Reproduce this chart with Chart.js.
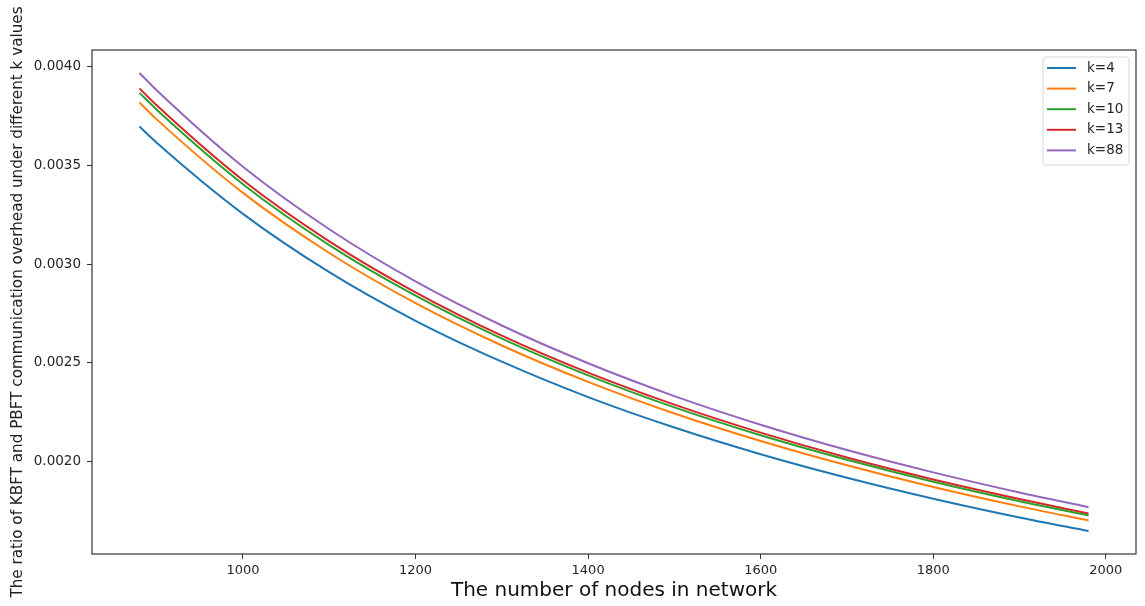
<!DOCTYPE html>
<html>
<head>
<meta charset="utf-8">
<script src="https://cdn.jsdelivr.net/npm/chart.js@4.4.1/dist/chart.umd.min.js"></script>
<style>
  html, body { margin: 0; padding: 0; background: #fff; }
  #wrap { width: 1145px; height: 606px; }
</style>
</head>
<body>
<div id="wrap"><canvas id="c" width="1145" height="606"></canvas></div>
<script>
// ---- data ----
const nodes = [880, 900, 1000, 1100, 1200, 1300, 1400, 1500, 1600, 1700, 1800, 1900, 1980];
const k4  = [0.003696, 0.003614, 0.003254, 0.002959, 0.002713, 0.002506, 0.002327, 0.002173, 0.002038, 0.001919, 0.001813, 0.001718, 0.001649];
const k7  = [0.003817, 0.003732, 0.003360, 0.003056, 0.002802, 0.002588, 0.002404, 0.002244, 0.002105, 0.001982, 0.001872, 0.001774, 0.001703];
const k10 = [0.003866, 0.003781, 0.003404, 0.003096, 0.002840, 0.002623, 0.002437, 0.002275, 0.002134, 0.002010, 0.001899, 0.001800, 0.001728];
const k13 = [0.003889, 0.003803, 0.003424, 0.003115, 0.002857, 0.002638, 0.002451, 0.002289, 0.002147, 0.002021, 0.001910, 0.001811, 0.001738];
const k88 = [0.003967, 0.003879, 0.003492, 0.003176, 0.002912, 0.002689, 0.002498, 0.002332, 0.002187, 0.002059, 0.001946, 0.001844, 0.001770];
const seriesLabels = ['k=4', 'k=7', 'k=10', 'k=13', 'k=88'];
const seriesColors = ['#1f77b4', '#ff7f0e', '#2ca02c', '#d62728', '#9467bd'];
const xTicks = [1000, 1200, 1400, 1600, 1800, 2000];
const yTicks = [0.0020, 0.0025, 0.0030, 0.0035, 0.0040];
const xTitle = 'The number of nodes in network';
const yTitle = 'The ratio of KBFT and PBFT communication overhead under different k values';

const allSeries = [k4, k7, k10, k13, k88];
const FONT = "'DejaVu Sans', sans-serif";
const TEXT = '#262626';

const datasets = allSeries.map((s, i) => ({
  label: seriesLabels[i],
  data: nodes.map((n, j) => ({ x: n, y: s[j] })),
  borderColor: seriesColors[i],
  backgroundColor: seriesColors[i],
  borderWidth: 2,
  pointRadius: 0,
  fill: false,
  cubicInterpolationMode: 'monotone'
}));

const framePlugin = {
  id: 'frame',
  afterDraw(chart) {
    const { ctx, chartArea: a } = chart;
    ctx.save();
    ctx.strokeStyle = '#333';
    ctx.lineWidth = 1.2;
    ctx.strokeRect(a.left, a.top, a.right - a.left, a.bottom - a.top);
    ctx.restore();
  }
};

const legendPlugin = {
  id: 'mplLegend',
  afterDraw(chart) {
    const { ctx, chartArea: a } = chart;
    const w = 86, h = 108;
    const x = a.right - 7 - w, y = a.top + 7;
    ctx.save();
    ctx.beginPath();
    const r = 3;
    ctx.moveTo(x + r, y);
    ctx.arcTo(x + w, y, x + w, y + h, r);
    ctx.arcTo(x + w, y + h, x, y + h, r);
    ctx.arcTo(x, y + h, x, y, r);
    ctx.arcTo(x, y, x + w, y, r);
    ctx.closePath();
    ctx.fillStyle = 'rgba(255,255,255,0.85)';
    ctx.fill();
    ctx.strokeStyle = '#d6d6d6';
    ctx.lineWidth = 1;
    ctx.stroke();
    ctx.font = '13.5px ' + FONT;
    ctx.textBaseline = 'middle';
    chart.data.datasets.forEach((ds, i) => {
      const yy = y + 11 + i * 20.6;
      ctx.strokeStyle = ds.borderColor;
      ctx.lineWidth = 2;
      ctx.beginPath();
      ctx.moveTo(x + 4, yy);
      ctx.lineTo(x + 33, yy);
      ctx.stroke();
      ctx.fillStyle = TEXT;
      ctx.fillText(ds.label, x + 44, yy);
    });
    ctx.restore();
  }
};

new Chart(document.getElementById('c'), {
  type: 'line',
  data: { datasets },
  plugins: [framePlugin, legendPlugin],
  options: {
    responsive: false,
    animation: false,
    layout: { padding: { top: 50, right: 9, left: 0, bottom: 0 } },
    plugins: { legend: { display: false }, tooltip: { enabled: false } },
    scales: {
      x: {
        type: 'linear',
        min: 825,
        max: 2035,
        afterBuildTicks(scale) { scale.ticks = xTicks.map(v => ({ value: v })); },
        afterFit(scale) { scale.height = 52; },
        border: { display: false },
        grid: { drawOnChartArea: false, drawTicks: true, tickLength: 5, color: '#333', lineWidth: 1 },
        ticks: { color: TEXT, font: { family: FONT, size: 13 }, padding: 4, maxRotation: 0,
                 callback: v => String(v) },
        title: { display: true, text: xTitle, color: '#111', font: { family: FONT, size: 20 },
                 padding: { top: 0, bottom: 3 } }
      },
      y: {
        type: 'linear',
        min: 0.001533,
        max: 0.004083,
        afterBuildTicks(scale) { scale.ticks = yTicks.map(v => ({ value: v })); },
        afterFit(scale) { scale.width = 92; },
        border: { display: false },
        grid: { drawOnChartArea: false, drawTicks: true, tickLength: 5, color: '#333', lineWidth: 1 },
        ticks: { color: TEXT, font: { family: FONT, size: 13.5 }, padding: 6,
                 callback: v => Number(v).toFixed(4) },
        title: { display: true, text: yTitle, color: '#222', font: { family: FONT, size: 15.2 },
                 padding: { top: 9, bottom: 0 } }
      }
    }
  }
});
</script>
</body>
</html>
